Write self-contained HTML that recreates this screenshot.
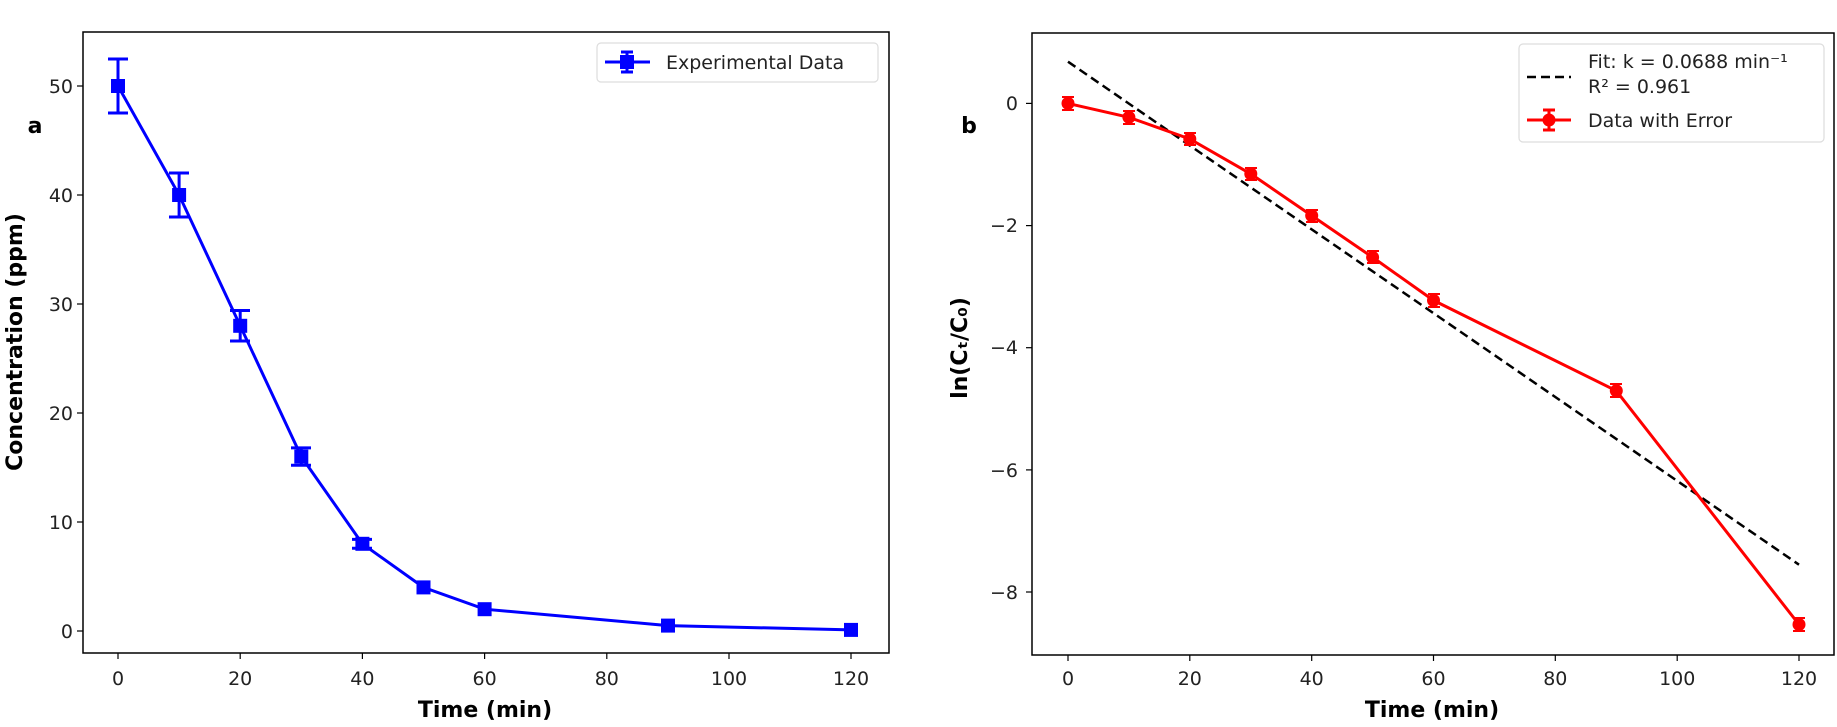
<!DOCTYPE html>
<html><head><meta charset="utf-8"><style>
html,body{margin:0;padding:0;background:#fff;}
svg{display:block;font-family:"DejaVu Sans","Liberation Sans",sans-serif;}
</style></head><body>
<svg width="1837" height="727" viewBox="0 0 1837 727" xmlns="http://www.w3.org/2000/svg">
<rect width="1837" height="727" fill="#fff"/>
<!-- LEFT PANEL -->
<g font-size="19" fill="#222">
<rect x="83" y="32" width="806" height="621" fill="none" stroke="#000" stroke-width="1.5"/>
<!-- x ticks -->
<g stroke="#000" stroke-width="1.2">
<line x1="118" y1="653" x2="118" y2="659"/><line x1="240.2" y1="653" x2="240.2" y2="659"/><line x1="362.4" y1="653" x2="362.4" y2="659"/><line x1="484.6" y1="653" x2="484.6" y2="659"/><line x1="606.8" y1="653" x2="606.8" y2="659"/><line x1="729" y1="653" x2="729" y2="659"/><line x1="851" y1="653" x2="851" y2="659"/>
<line x1="77" y1="631" x2="83" y2="631"/><line x1="77" y1="522" x2="83" y2="522"/><line x1="77" y1="413" x2="83" y2="413"/><line x1="77" y1="304" x2="83" y2="304"/><line x1="77" y1="195" x2="83" y2="195"/><line x1="77" y1="86" x2="83" y2="86"/>
</g>
<g text-anchor="middle">
<text x="118" y="685">0</text><text x="240.2" y="685">20</text><text x="362.4" y="685">40</text><text x="484.6" y="685">60</text><text x="606.8" y="685">80</text><text x="729" y="685">100</text><text x="851" y="685">120</text>
</g>
<g text-anchor="end">
<text x="73" y="638">0</text><text x="73" y="529">10</text><text x="73" y="420">20</text><text x="73" y="311">30</text><text x="73" y="202">40</text><text x="73" y="93">50</text>
</g>
<text x="485" y="717" text-anchor="middle" font-weight="bold" font-size="22" fill="#000">Time (min)</text>
<text transform="translate(22,342) rotate(-90)" text-anchor="middle" font-weight="bold" font-size="22" fill="#000">Concentration (ppm)</text>
<text x="35" y="133" text-anchor="middle" font-weight="bold" font-size="22" fill="#000">a</text>
<!-- data -->
<g stroke="#0000ff" stroke-width="3" fill="none">
<polyline points="118,86 179.1,195 240.2,325.8 301.3,456.6 362.4,543.8 423.5,587.4 484.6,609.2 668,625.6 851,629.9"/>
<line x1="118" y1="59" x2="118" y2="113"/><line x1="108" y1="59" x2="128" y2="59"/><line x1="108" y1="113" x2="128" y2="113"/>
<line x1="179.1" y1="173" x2="179.1" y2="217"/><line x1="169" y1="173" x2="189" y2="173"/><line x1="169" y1="217" x2="189" y2="217"/>
<line x1="240.2" y1="310.5" x2="240.2" y2="341"/><line x1="230" y1="310.5" x2="250" y2="310.5"/><line x1="230" y1="341" x2="250" y2="341"/>
<line x1="301.3" y1="447.9" x2="301.3" y2="465.3"/><line x1="291" y1="447.9" x2="311" y2="447.9"/><line x1="291" y1="465.3" x2="311" y2="465.3"/>
<line x1="352" y1="539.4" x2="372" y2="539.4"/><line x1="352" y1="548.2" x2="372" y2="548.2"/>
</g>
<g fill="#0000ff">
<rect x="111" y="79" width="14" height="14"/><rect x="172.1" y="188" width="14" height="14"/><rect x="233.2" y="318.8" width="14" height="14"/><rect x="294.3" y="449.6" width="14" height="14"/><rect x="355.4" y="536.8" width="14" height="14"/><rect x="416.5" y="580.4" width="14" height="14"/><rect x="477.6" y="602.2" width="14" height="14"/><rect x="661" y="618.6" width="14" height="14"/><rect x="844" y="622.9" width="14" height="14"/>
</g>
<!-- legend -->
<rect x="597" y="43" width="281" height="39" rx="4" fill="#fff" stroke="#ddd" stroke-width="1.2"/>
<g stroke="#0000ff" stroke-width="3"><line x1="605" y1="62" x2="650" y2="62"/><line x1="627" y1="52" x2="627" y2="72"/><line x1="621" y1="52" x2="633" y2="52"/><line x1="621" y1="72" x2="633" y2="72"/></g>
<rect x="620" y="55" width="14" height="14" fill="#0000ff"/>
<text x="666" y="69">Experimental Data</text>
</g>
<!-- RIGHT PANEL -->
<g font-size="19" fill="#222">
<rect x="1032" y="33" width="802" height="622" fill="none" stroke="#000" stroke-width="1.5"/>
<g stroke="#000" stroke-width="1.2">
<line x1="1068" y1="655" x2="1068" y2="661"/><line x1="1189.8" y1="655" x2="1189.8" y2="661"/><line x1="1311.7" y1="655" x2="1311.7" y2="661"/><line x1="1433.5" y1="655" x2="1433.5" y2="661"/><line x1="1555.3" y1="655" x2="1555.3" y2="661"/><line x1="1677.2" y1="655" x2="1677.2" y2="661"/><line x1="1799" y1="655" x2="1799" y2="661"/>
<line x1="1026" y1="103.4" x2="1032" y2="103.4"/><line x1="1026" y1="225.6" x2="1032" y2="225.6"/><line x1="1026" y1="347.7" x2="1032" y2="347.7"/><line x1="1026" y1="469.9" x2="1032" y2="469.9"/><line x1="1026" y1="592" x2="1032" y2="592"/>
</g>
<g text-anchor="middle">
<text x="1068" y="685">0</text><text x="1189.8" y="685">20</text><text x="1311.7" y="685">40</text><text x="1433.5" y="685">60</text><text x="1555.3" y="685">80</text><text x="1677.2" y="685">100</text><text x="1799" y="685">120</text>
</g>
<g text-anchor="end">
<text x="1018" y="110">0</text><text x="1018" y="232">−2</text><text x="1018" y="354">−4</text><text x="1018" y="477">−6</text><text x="1018" y="599">−8</text>
</g>
<text x="1432" y="717" text-anchor="middle" font-weight="bold" font-size="22" fill="#000">Time (min)</text>
<text transform="translate(967,348) rotate(-90)" text-anchor="middle" font-weight="bold" font-size="22" fill="#000">ln(Cₜ/C₀)</text>
<text x="969" y="133" text-anchor="middle" font-weight="bold" font-size="22" fill="#000">b</text>
<line x1="1068" y1="61.7" x2="1799" y2="564.7" stroke="#000" stroke-width="2.5" stroke-dasharray="9,5"/>
<g stroke="#ff0000" stroke-width="3" fill="none">
<polyline points="1068,103.4 1128.9,117.3 1189.8,139 1250.8,173.9 1311.7,215.6 1372.6,257.3 1433.5,300.4 1616.3,390.8 1799,624.5"/>
<g stroke-width="2">
<line x1="1062" y1="97" x2="1074" y2="97"/><line x1="1062" y1="110" x2="1074" y2="110"/>
<line x1="1123" y1="111" x2="1135" y2="111"/><line x1="1123" y1="124" x2="1135" y2="124"/>
<line x1="1184" y1="133" x2="1196" y2="133"/><line x1="1184" y1="145" x2="1196" y2="145"/>
<line x1="1245" y1="168" x2="1257" y2="168"/><line x1="1245" y1="180" x2="1257" y2="180"/>
<line x1="1306" y1="210" x2="1318" y2="210"/><line x1="1306" y1="222" x2="1318" y2="222"/>
<line x1="1367" y1="251" x2="1379" y2="251"/><line x1="1367" y1="263" x2="1379" y2="263"/>
<line x1="1428" y1="294" x2="1440" y2="294"/><line x1="1428" y1="307" x2="1440" y2="307"/>
<line x1="1610" y1="384" x2="1622" y2="384"/><line x1="1610" y1="397" x2="1622" y2="397"/>
<line x1="1793" y1="618" x2="1805" y2="618"/><line x1="1793" y1="631" x2="1805" y2="631"/>
</g>
</g>
<g fill="#ff0000">
<circle cx="1068" cy="103.4" r="6.5"/><circle cx="1128.9" cy="117.3" r="6.5"/><circle cx="1189.8" cy="139" r="6.5"/><circle cx="1250.8" cy="173.9" r="6.5"/><circle cx="1311.7" cy="215.6" r="6.5"/><circle cx="1372.6" cy="257.3" r="6.5"/><circle cx="1433.5" cy="300.4" r="6.5"/><circle cx="1616.3" cy="390.8" r="6.5"/><circle cx="1799" cy="624.5" r="6.5"/>
</g>
<!-- legend -->
<rect x="1519" y="44" width="305" height="98" rx="4" fill="#fff" stroke="#ddd" stroke-width="1.2"/>
<line x1="1527" y1="77" x2="1571" y2="77" stroke="#000" stroke-width="2.5" stroke-dasharray="9,5"/>
<text x="1588" y="68">Fit: k = 0.0688 min⁻¹</text>
<text x="1588" y="93">R² = 0.961</text>
<g stroke="#ff0000" stroke-width="3"><line x1="1527" y1="120" x2="1571" y2="120"/><line x1="1549" y1="110" x2="1549" y2="130"/><line x1="1543" y1="110" x2="1555" y2="110"/><line x1="1543" y1="130" x2="1555" y2="130"/></g>
<circle cx="1549" cy="120" r="6.5" fill="#ff0000"/>
<text x="1588" y="127">Data with Error</text>
</g>
</svg>
</body></html>
